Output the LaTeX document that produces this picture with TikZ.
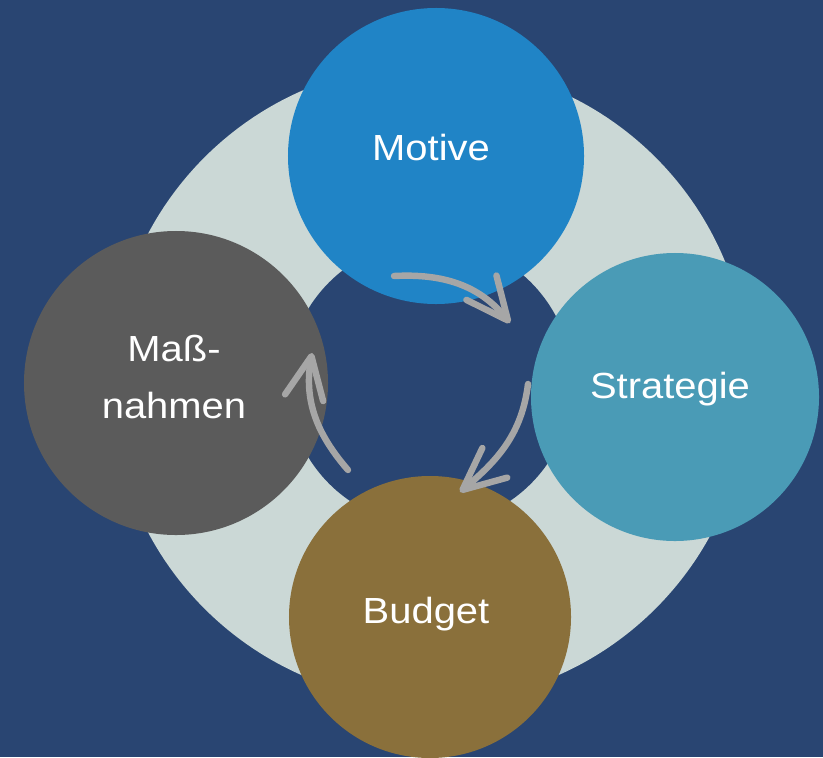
\documentclass[tikz,border=0pt]{standalone}
\usepackage{fontspec}
\setmainfont{Liberation Sans}[FakeStretch=1.1]
\usetikzlibrary{arrows.meta}
\definecolor{bgBlue}{RGB}{41,69,114}
\definecolor{ringGray}{RGB}{203,216,214}
\definecolor{motiveBlue}{RGB}{32,132,198}
\definecolor{strategyTeal}{RGB}{74,155,182}
\definecolor{budgetBrown}{RGB}{138,112,59}
\definecolor{measureGray}{RGB}{91,91,91}
\colorlet{arrowGray}{black!35!white}

\begin{document}
\begin{tikzpicture}[x=0.03cm, y=0.03cm,
    phase/.style={circle, inner sep=0pt},
    word/.style={text=white, font=\fontsize{31}{37}\selectfont, align=center},
    flowarrow/.style={draw=arrowGray, line width=5.5pt, line cap=round,
        -{Straight Barb[length=36pt, width=33pt, round]}}]
    \fill[bgBlue] (0,0) rectangle (823,-757);
    \useasboundingbox (0,0) rectangle (823,-757);
    \fill[ringGray] (430,-383) circle[radius=319];
    \fill[bgBlue] (430,-383) circle[radius=142.5];
    \node[phase, fill=motiveBlue, minimum size=8.88cm] (motive) at (436,-156) {};
    \node[phase, fill=strategyTeal, minimum size=8.64cm] (strategie) at (675,-397) {};
    \node[phase, fill=budgetBrown, minimum size=8.46cm] (budget) at (430,-617) {};
    \node[phase, fill=measureGray, minimum size=9.12cm] (massnahmen) at (176,-383) {};
    \node[word] (motiveText) at (431,-148) {Motive};
    \node[word] (strategieText) at (670,-389) {Strategie};
    \node[word] (budgetText) at (426,-614) {Budget};
    \node[word] (massnahmenText) at (174,-377) {Maß-\\[12pt]nahmen};
    \coordinate (m1) at (394,-276);
    \coordinate (s1) at (510,-323);
    \coordinate (s2) at (528,-384);
    \coordinate (b1) at (460,-492);
    \coordinate (b2) at (348,-470);
    \coordinate (n1) at (312,-353);
    \draw[flowarrow] (m1) to[out=3, in=129] (s1);
    \draw[flowarrow] (s2) to[out=-97, in=40] (b1);
    \draw[flowarrow] (b2) to[out=131, in=-100] (n1);
\end{tikzpicture}
\end{document}
